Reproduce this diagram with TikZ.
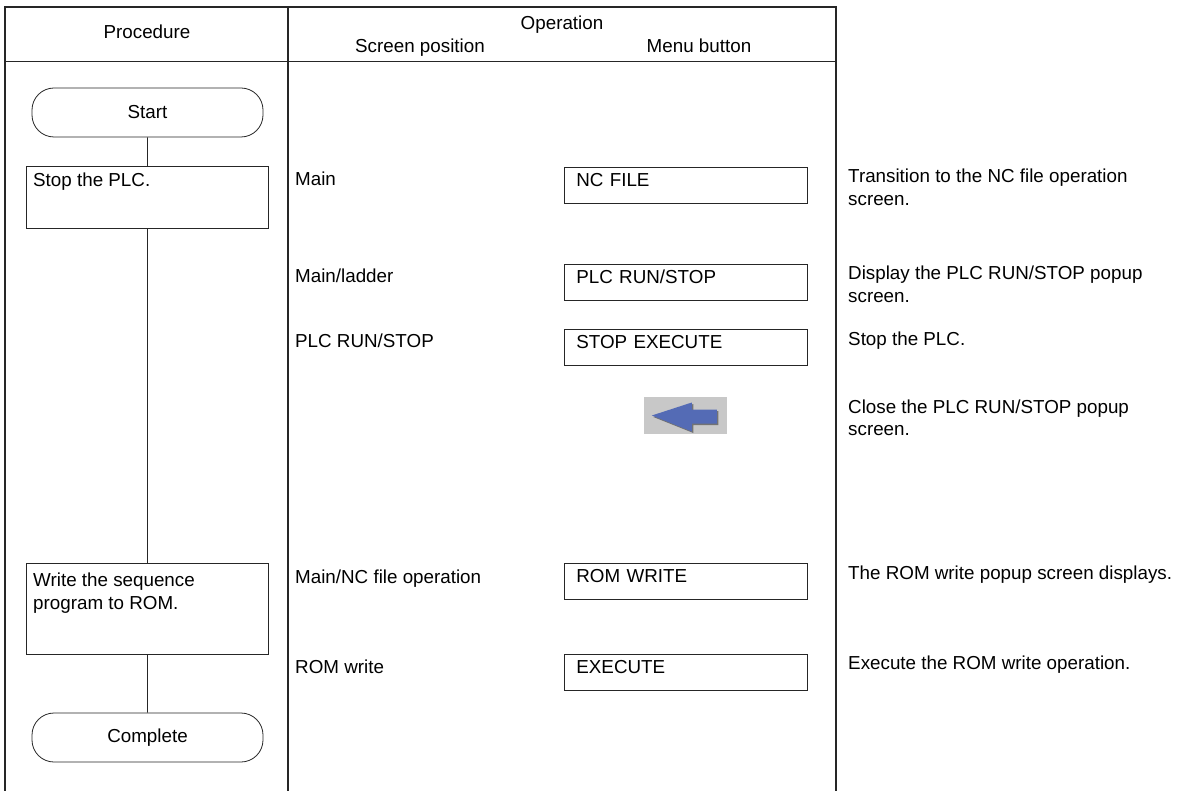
\documentclass[tikz,border=0pt]{standalone}
\usepackage{fontspec}
\setmainfont{Liberation Sans}
\usepackage{tikz}
\usetikzlibrary{positioning}
\definecolor{iconblue}{RGB}{84,107,181}
\definecolor{icongray}{RGB}{200,200,200}
\tikzset{
	frame/.style={line width=2.4pt, black!85},
	thinline/.style={line width=0.8pt, black!85},
	terminal/.style={draw=black!85, line width=0.8pt, rounded corners=22pt, minimum width=231pt, minimum height=49pt, inner sep=0pt},
	stepbox/.style={draw=black!85, line width=0.8pt, minimum width=242pt, inner sep=0pt},
	menubox/.style={draw=black!85, line width=0.8pt, anchor=north west, text width=219pt, inner xsep=12pt, inner ysep=0pt, text height=19pt, text depth=17pt, align=left},
	txt/.style={inner sep=0pt, anchor=base west, align=left},
	head/.style={inner sep=0pt, anchor=base},
}

\begin{document}
\begin{tikzpicture}[x=1pt, y=-1pt, font=\fontsize{18.8pt}{22.5pt}\selectfont]
		\useasboundingbox (0,0) rectangle (1183,791);
		% table
		\draw[frame] (5,791) -- (5,7) -- (836,7) -- (836,791);
		\draw[frame] (288,7) -- (288,791);
		\draw[thinline] (5,61) -- (836,61);
		\node[head] (hproc) at (147,38.5) {Procedure};
		\node[head] (hoper) at (562,30) {Operation};
		\node[head] (hpos) at (420,53) {Screen position};
		\node[head] (hmenu) at (699,53) {Menu button};
		% procedure (base of a two-line node is its last line)
		\node[terminal] (start) at (147.5,112.5) {Start};
		\node[stepbox, minimum height=62pt, anchor=north west] (stopplc) at (26,166) {};
		\node[txt] (stopplctext) at ([xshift=7pt,yshift=-21pt]stopplc.north west) {Stop the PLC.};
		\node[stepbox, minimum height=91pt, anchor=north west] (writerom) at (26,563) {};
		\node[txt] (writeromtext) at ([xshift=7pt,yshift=-46pt]writerom.north west) {Write the sequence\\program to ROM.};
		\node[terminal] (complete) at (147.5,737.5) {Complete};
		\draw[thinline] (start) -- (stopplc);
		\draw[thinline] (stopplc) -- (writerom);
		\draw[thinline] (writerom) -- (complete);
		% screen position
		\node[txt] (posmain) at (295,186) {Main};
		\node[txt] (posladder) at (295,283) {Main/ladder};
		\node[txt] (posrunstop) at (295,348) {PLC RUN/STOP};
		\node[txt] (posncfile) at (295,583) {Main/NC file operation};
		\node[txt] (posromwrite) at (295,673) {ROM write};
		% menu button
		\node[menubox] (ncfile) at (564,167) {NC FILE};
		\node[menubox] (plcrunstop) at (564,264) {PLC RUN/STOP};
		\node[menubox] (stopexec) at (564,329) {STOP EXECUTE};
		\node[fill=icongray, minimum width=83pt, minimum height=37pt, inner sep=0pt] (closeicon) at (685.5,415.5) {};
		\fill[black!55] ([shift={(9.5,1.5)}]closeicon.west) -- ++(40,-13) -- ++(0,7) -- ++(25,0) -- ++(0,14) -- ++(-25,0) -- ++(0,8) -- cycle;
		\fill[iconblue] ([xshift=8pt]closeicon.west) -- ++(40,-13) -- ++(0,7) -- ++(25,0) -- ++(0,14) -- ++(-25,0) -- ++(0,8) -- cycle;
		\node[menubox] (romwrite) at (564,563) {ROM WRITE};
		\node[menubox] (execute) at (564,654) {EXECUTE};
		% description
		\node[txt] (hintncfile) at (848,205.5) {Transition to the NC file operation\\screen.};
		\node[txt] (hintrunstop) at (848,302.5) {Display the PLC RUN/STOP popup\\screen.};
		\node[txt] (hintstop) at (848,346) {Stop the PLC.};
		\node[txt] (hintclose) at (848,435.5) {Close the PLC RUN/STOP popup\\screen.};
		\node[txt] (hintrom) at (848,579) {The ROM write popup screen displays.};
		\node[txt] (hintexec) at (848,669) {Execute the ROM write operation.};
\end{tikzpicture}
\end{document}
